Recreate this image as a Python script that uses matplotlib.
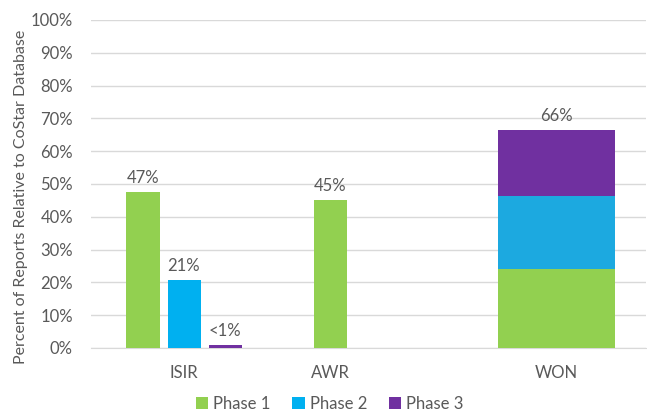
import numpy as np
import matplotlib.pyplot as plt
from matplotlib.ticker import PercentFormatter

plt.rcParams['font.family'] = ['Lato', 'DejaVu Sans']

# data (percent)
categories = ['ISIR', 'AWR', 'WON']
isir = [47.5, 20.8, 1.0]          # Phase 1, 2, 3 side by side
isir_labels = ['47%', '21%', '<1%']
awr = 45.1
awr_label = '45%'
won = [24.2, 22.2, 20.1]          # stacked Phase 1, 2, 3
won_label = '66%'
series = ['Phase 1', 'Phase 2', 'Phase 3']
colors = ['#92D050', '#00B0F0', '#7030A0']
won_colors = ['#92D050', '#1CA9E0', '#7030A0']

txt = '#595959'
fs = 12

fig = plt.figure(figsize=(6.47, 4.17), dpi=100)
ax = fig.add_axes([91/647, 69/417, 555/647, 328/417])

# layout positions (x axis in plot pixels)
centers = [93, 239, 465]
w = 33
offs = [-41, 0, 41]

for i in range(3):
    ax.bar(centers[0] + offs[i], isir[i], width=w, color=colors[i], label=series[i], zorder=3)
    ax.text(centers[0] + offs[i], isir[i] + 1.8, isir_labels[i], ha='center', va='bottom',
            fontsize=fs, color=txt)

ax.bar(centers[1], awr, width=w, color=colors[0], zorder=3)
ax.text(centers[1], awr + 1.8, awr_label, ha='center', va='bottom', fontsize=fs, color=txt)

bottom = 0
for i in range(3):
    ax.bar(centers[2], won[i], width=117, bottom=bottom, color=won_colors[i], zorder=3)
    bottom += won[i]
ax.text(centers[2], bottom + 1.8, won_label, ha='center', va='bottom', fontsize=fs, color=txt)

ax.set_xlim(0, 555)
ax.set_ylim(0, 100)
ax.set_yticks(np.arange(0, 101, 10))
ax.yaxis.set_major_formatter(PercentFormatter(decimals=0))
ax.set_xticks(centers)
ax.set_xticklabels(categories)
ax.tick_params(axis='both', length=0, labelsize=fs, labelcolor=txt)
ax.tick_params(axis='x', pad=12)
ax.tick_params(axis='y', pad=13)
ax.grid(axis='y', color='#D9D9D9', linewidth=1, zorder=0)
for s in ['top', 'right', 'left']:
    ax.spines[s].set_visible(False)
ax.spines['bottom'].set_color('#D9D9D9')

ax.set_ylabel('Percent of Reports Relative to CoStar Database', fontsize=11.5, color=txt)
ax.yaxis.set_label_coords(-0.114, 0.46)

ax.legend(loc='center', bbox_to_anchor=(0.43, -0.17), ncol=3, frameon=False,
          fontsize=fs, labelcolor=txt, handlelength=0.75, handleheight=0.75,
          handletextpad=0.3, columnspacing=1.3)

fig.savefig('out.png', dpi=100)
